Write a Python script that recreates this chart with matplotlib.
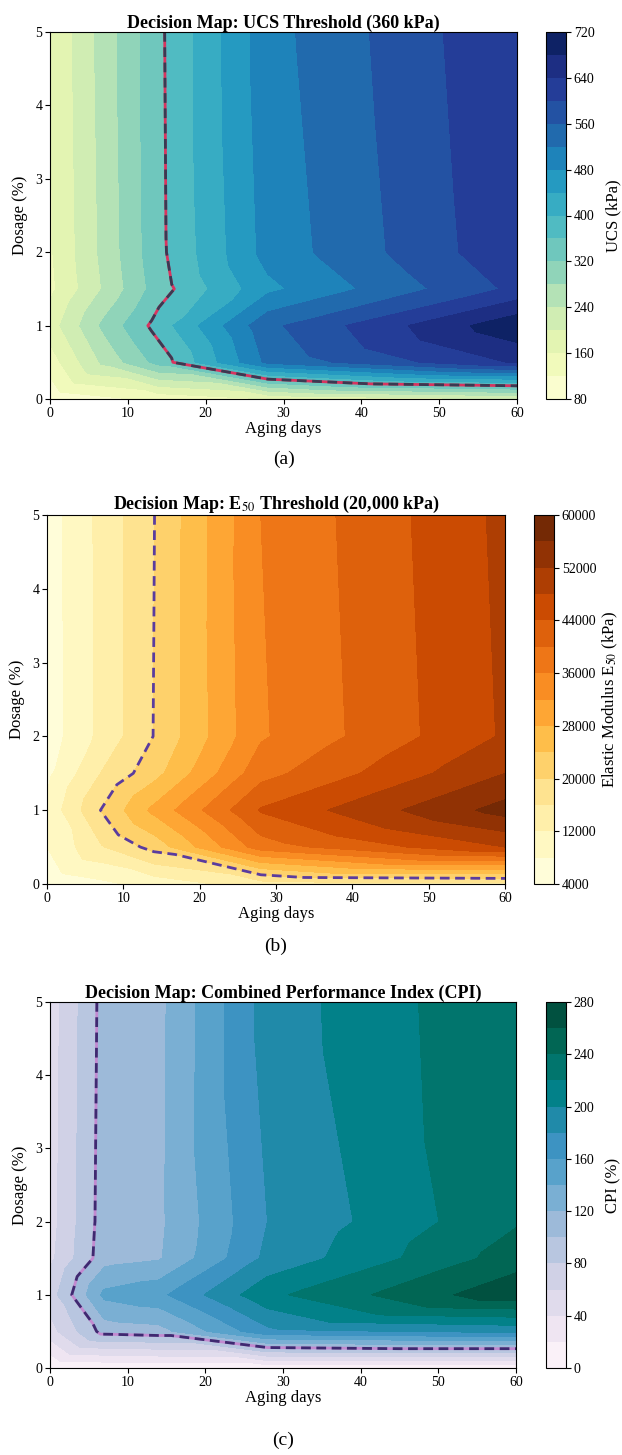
import numpy as np
import matplotlib
matplotlib.use("Agg")
import matplotlib.pyplot as plt
import matplotlib.tri as mtri

# ---- data -------------------------------------------------------------
aging_days = [0, 7, 14, 28, 60]          # columns
dosage_pct = [0, 0.5, 1, 1.5, 2, 5]      # rows

ucs_kpa = [
    [90, 110, 130, 160, 200],
    [140, 250, 335, 530, 645],
    [180, 290, 378, 550, 710],
    [150, 245, 342, 470, 610],
    [155, 252, 350, 495, 632],
    [160, 258, 352, 505, 640],
]
e50_kpa = [
    [5000, 7000, 9500, 14000, 15000],
    [8000, 15500, 21500, 38000, 48000],
    [9000, 20000, 29000, 44400, 57600],
    [7000, 16000, 22500, 38500, 52000],
    [5800, 13000, 20100, 35500, 48500],
    [6000, 13000, 19900, 36000, 49000],
]
cpi_pct = [
    [0, 3, 5, 5, 5],
    [52, 108, 112, 175, 185],
    [70, 145, 155, 215, 275],
    [55, 112, 118, 185, 250],
    [52, 110, 116, 180, 238],
    [50, 108, 115, 189, 240],
]

ucs_threshold = 360
e50_threshold = 20000
cpi_threshold = 100

# ---- style ------------------------------------------------------------
plt.rcParams["font.family"] = ["Liberation Serif", "DejaVu Serif"]
plt.rcParams["mathtext.fontset"] = "stix"
plt.rcParams["axes.linewidth"] = 0.8

W, H = 622, 1455
fig = plt.figure(figsize=(W / 100, H / 100), dpi=100)


def rect(l, t, r, b):
    return [l / W, 1 - b / H, (r - l) / W, (b - t) / H]


# Delaunay triangulation of the measurement grid (linear interpolation)
xg, yg = np.meshgrid(aging_days, dosage_pct)
triang = mtri.Triangulation(xg.ravel().astype(float), yg.ravel().astype(float))


def panel(ax_box, cb_box, values, levels, cmap, threshold, title,
          cb_label, cb_ticks, cb_pad, line_under, line_dash, tag, tag_y):
    ax = fig.add_axes(rect(*ax_box))
    z = np.asarray(values, dtype=float).ravel()
    cf = ax.tricontourf(triang, z, levels=levels, cmap=cmap)
    if line_under is not None:
        ax.tricontour(triang, z, levels=[threshold], colors=[line_under],
                      linewidths=2.0, linestyles="solid")
    cs = ax.tricontour(triang, z, levels=[threshold], colors=[line_dash],
                       linewidths=2.0, linestyles="--")
    try:
        cs.set_dashes([(0, (3.5, 2.0))])
    except Exception:
        pass
    ax.set_xlim(0, 60)
    ax.set_ylim(0, 5)
    ax.set_xticks(range(0, 61, 10))
    ax.set_yticks(range(0, 6))
    ax.tick_params(labelsize=10, length=3.5, width=0.8, pad=2)
    ax.set_xlabel("Aging days", fontsize=12, labelpad=1)
    ax.set_ylabel("Dosage (%)", fontsize=12, labelpad=5)
    ax.set_title(title, fontsize=13, fontweight="bold", pad=3)
    cax = fig.add_axes(rect(*cb_box))
    cb = fig.colorbar(cf, cax=cax, ticks=cb_ticks)
    cb.ax.tick_params(labelsize=10, length=3.5, width=0.8, pad=2)
    cb.set_label(cb_label, fontsize=12, labelpad=cb_pad)
    cb.outline.set_linewidth(0.8)
    fig.text((ax_box[0] + ax_box[2]) / 2 / W, 1 - tag_y / H, tag,
             ha="center", va="center", fontsize=14)
    return ax


panel((50, 32, 517, 399), (546, 32, 566, 399), ucs_kpa,
      np.arange(80, 721, 40), "YlGnBu", ucs_threshold,
      "Decision Map: UCS Threshold (360 kPa)", "UCS (kPa)",
      np.arange(80, 721, 80), 8, "#d8345f", "#3a3a52", "(a)", 459)

panel((47, 515, 505, 884), (534, 515, 554, 884), e50_kpa,
      np.arange(4000, 60001, 4000), "YlOrBr", e50_threshold,
      r"Decision Map: E$_{50}$ Threshold (20,000 kPa)",
      r"Elastic Modulus E$_{50}$ (kPa)",
      np.arange(4000, 60001, 8000), 3, None, "#5a3c9e", "(b)", 946)

panel((50, 1002, 516, 1368), (546, 1002, 566, 1368), cpi_pct,
      np.arange(0, 281, 20), "PuBuGn", cpi_threshold,
      "Decision Map: Combined Performance Index (CPI)", "CPI (%)",
      np.arange(0, 281, 40), 8, "#c28ad0", "#3e2a70", "(c)", 1440)

fig.savefig("out.png", dpi=100)
